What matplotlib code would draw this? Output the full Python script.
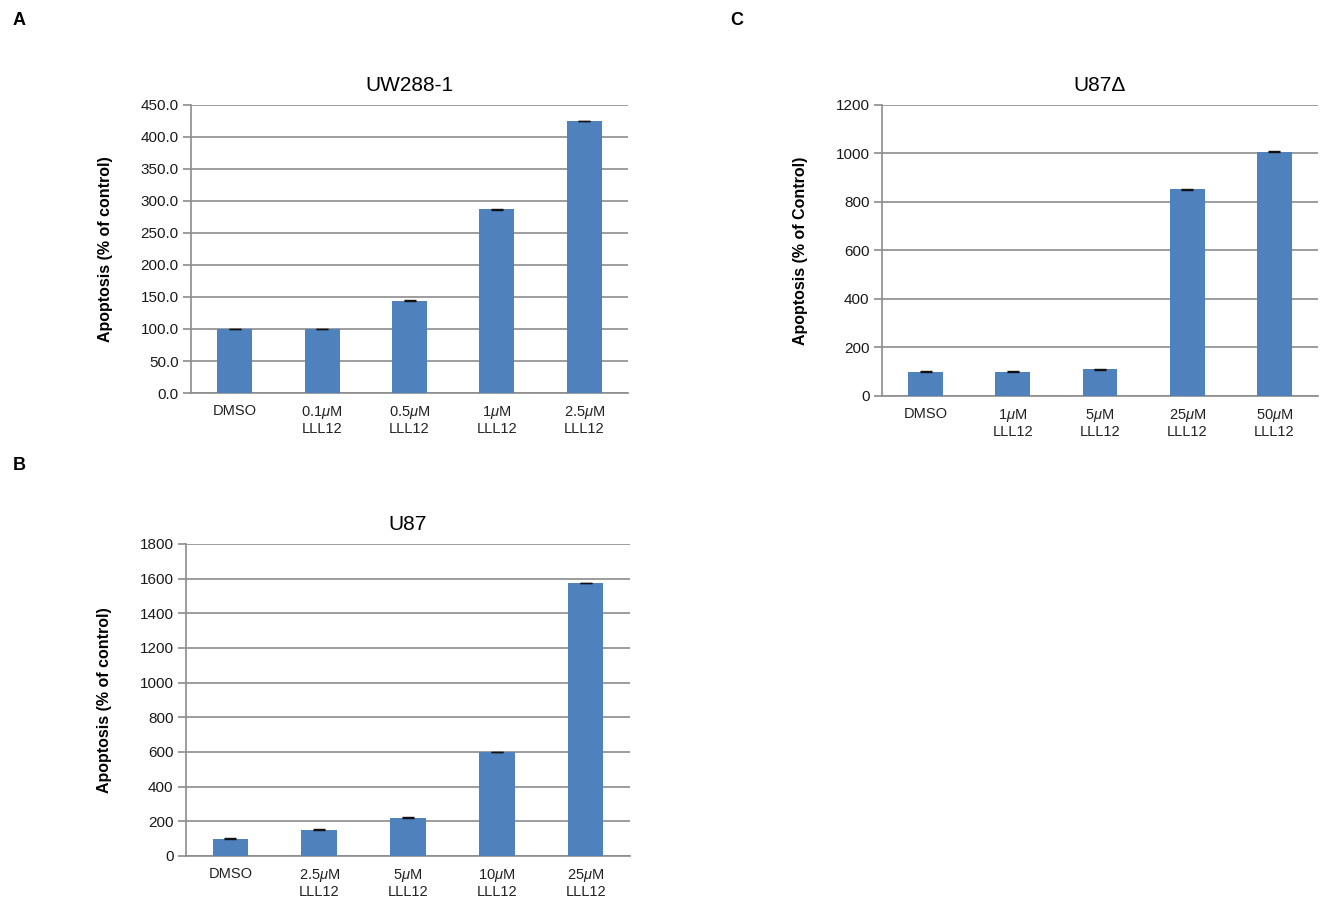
import numpy as np
import matplotlib.pyplot as plt

plt.rcParams['font.family'] = ['Liberation Sans', 'DejaVu Sans']
plt.rcParams['mathtext.fontset'] = 'custom'
plt.rcParams['mathtext.it'] = 'Liberation Sans:italic'

BAR = '#4F81BD'
GRID = '#8C8C8C'

# UW288-1 cells
uw_labels = ['DMSO', '0.1$\\mu$M\nLLL12', '0.5$\\mu$M\nLLL12', '1$\\mu$M\nLLL12', '2.5$\\mu$M\nLLL12']
uw_values = [100.0, 100.0, 144.0, 287.0, 425.0]
uw_err = [0.6, 0.6, 0.6, 0.6, 0.6]

# U87 cells
u87_labels = ['DMSO', '2.5$\\mu$M\nLLL12', '5$\\mu$M\nLLL12', '10$\\mu$M\nLLL12', '25$\\mu$M\nLLL12']
u87_values = [100, 152, 222, 600, 1575]
u87_err = [2, 2, 2, 2, 2]

# U87 delta cells
u87d_labels = ['DMSO', '1$\\mu$M\nLLL12', '5$\\mu$M\nLLL12', '25$\\mu$M\nLLL12', '50$\\mu$M\nLLL12']
u87d_values = [100, 100, 110, 852, 1008]
u87d_err = [1.5, 1.5, 1.5, 1.5, 1.5]


def bar_panel(ax, labels, values, err, title, ylabel, ymax, step, fmt):
    x = np.arange(len(values))
    ax.bar(x, values, width=0.4, color=BAR, zorder=3)
    ax.errorbar(x, values, yerr=err, fmt='none', ecolor='#111111',
                elinewidth=0.8, capsize=4, capthick=1.0, zorder=4)
    ax.set_xlim(-0.5, len(values) - 0.5)
    ax.set_ylim(0, ymax)
    ticks = np.arange(0, ymax + step / 2, step)
    ax.set_yticks(ticks)
    ax.set_yticklabels([fmt.format(t) for t in ticks], fontsize=11, color='#1a1a1a')
    ax.set_xticks(x)
    ax.set_xticklabels(labels, fontsize=10.5, color='#222222', linespacing=1.1)
    ax.tick_params(axis='x', length=0, pad=8)
    ax.tick_params(axis='y', length=6, width=1.2, color=GRID, direction='out', pad=3)
    ax.yaxis.grid(True, color=GRID, linewidth=1.2, zorder=0)
    for side in ['top', 'right']:
        ax.spines[side].set_visible(False)
    for side in ['left', 'bottom']:
        ax.spines[side].set_color(GRID)
        ax.spines[side].set_linewidth(1.2)
    ax.set_title(title, fontsize=15, pad=10)
    ax.set_ylabel(ylabel, fontsize=11.5, fontweight='bold', labelpad=20)


fig = plt.figure(figsize=(13.21, 9.02), dpi=100)

ax_a = fig.add_axes([0.1446, 0.5643, 0.3308, 0.3193])
bar_panel(ax_a, uw_labels, uw_values, uw_err, 'UW288-1',
          'Apoptosis (% of control)', 450, 50, '{:.1f}')

ax_b = fig.add_axes([0.1408, 0.051, 0.3361, 0.3459])
bar_panel(ax_b, u87_labels, u87_values, u87_err, 'U87',
          'Apoptosis (% of control)', 1800, 200, '{:.0f}')

ax_c = fig.add_axes([0.6677, 0.561, 0.330, 0.3226])
bar_panel(ax_c, u87d_labels, u87d_values, u87d_err, 'U87\u0394',
          'Apoptosis (% of Control)', 1200, 200, '{:.0f}')

fig.text(0.0098, 0.977, 'A', fontsize=13, fontweight='bold', va='center')
fig.text(0.0098, 0.484, 'B', fontsize=13, fontweight='bold', va='center')
fig.text(0.553, 0.977, 'C', fontsize=13, fontweight='bold', va='center')

fig.savefig('out.png', dpi=100)
